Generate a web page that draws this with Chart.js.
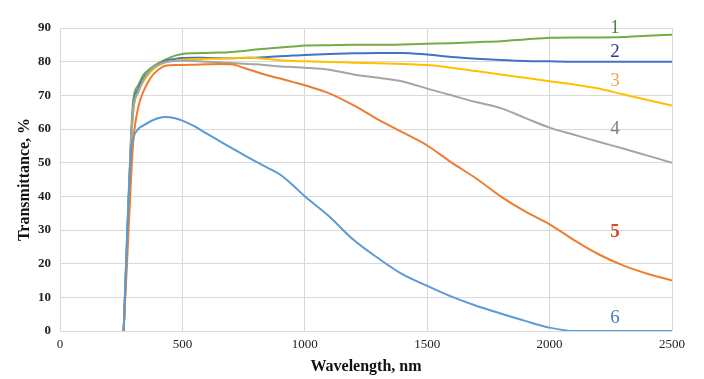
<!DOCTYPE html>
<html>
<head>
<meta charset="utf-8">
<script src="https://cdn.jsdelivr.net/npm/chart.js@4"></script>
<style>
  html, body { margin: 0; padding: 0; background: #fff; }
  #wrap { width: 704px; height: 379px; }
</style>
</head>
<body>
<div id="wrap"><canvas id="chart"></canvas></div>
<script>
// wavelength grid (nm) shared by all curves
const wavelengths = [260, 275, 290, 300, 320, 340, 370, 400, 430, 470, 500, 550, 600, 650, 700, 750, 800, 850, 900, 950,
    1000, 1100, 1200, 1300, 1400, 1500, 1600, 1700, 1800, 1900, 2000, 2100, 2200, 2300, 2400, 2500];

const curve1 = [0, 30, 58, 69, 73, 76, 78, 79.5, 80.6, 81.8, 82.3, 82.5, 82.6, 82.7, 82.9, 83.2, 83.6, 83.9, 84.2, 84.5,
    84.8, 84.9, 85, 85, 85.1, 85.3, 85.5, 85.8, 86.1, 86.6, 87.1, 87.2, 87.2, 87.3, 87.7, 88];
const curve2 = [0, 28, 56, 67, 72, 75, 77.5, 79, 80.2, 80.8, 81.1, 81.2, 81.1, 81, 81, 81.1, 81.2, 81.4, 81.6, 81.8,
    82, 82.3, 82.5, 82.6, 82.6, 82.1, 81.4, 80.9, 80.5, 80.2, 80.1, 80, 80, 80, 80, 80];
const curve3 = [0, 27, 55, 66, 71, 74, 77, 78.8, 79.8, 80.3, 80.6, 80.7, 80.8, 80.9, 81.1, 81.2, 81.1, 80.8, 80.4, 80.2,
    80.1, 79.9, 79.7, 79.5, 79.3, 79, 78.2, 77.2, 76.2, 75.2, 74.2, 73.2, 72, 70.3, 68.6, 67];
const curve4 = [0, 27, 55, 66, 71, 74.5, 77.5, 79, 79.8, 80.2, 80.3, 80.2, 80, 79.8, 79.6, 79.4, 79.2, 78.9, 78.6, 78.4,
    78.2, 77.6, 76.2, 75.2, 74.1, 72, 70, 68, 66.2, 63.3, 60.4, 58.3, 56.2, 54.2, 52.1, 50];
const curve5 = [0, 22, 45, 57, 66.5, 71, 75.2, 77.5, 78.8, 79, 79, 79.1, 79.2, 79.3, 79.2, 78.2, 77, 75.9, 75, 74,
    73, 70.6, 67, 62.8, 59, 55.1, 50, 45.3, 40, 35.5, 31.7, 27, 22.8, 19.5, 17, 15];
const curve6 = [0, 30, 53.5, 57.5, 60, 61, 62.3, 63.2, 63.6, 63.2, 62.5, 60.8, 58.6, 56.5, 54.4, 52.3, 50.3, 48.4, 46.4, 43.4,
    40, 34, 27, 21.6, 16.8, 13.4, 10.2, 7.5, 5.2, 3, 1, 0, 0, 0, 0, 0];

const curveColors = ['#70AD47', '#4472C4', '#FFC000', '#A5A5A5', '#ED7D31', '#5B9BD5'];

// curve number labels, placed in data units (nm, %)
const labelTexts = ['1', '2', '3', '4', '5', '6'];
const labelNm = [2267, 2267, 2267, 2267, 2267, 2267];
const labelPct = [90.1, 82.9, 74.2, 59.9, 29.3, 4.0];
const labelColors = ['#3F8A3A', '#2E3C86', '#F2A65A', '#808080', '#E0452A', '#4A7EBB'];

const xTicks = [0, 500, 1000, 1500, 2000, 2500];

function toPoints(ys) {
    return wavelengths.map((w, i) => ({ x: w, y: ys[i] }));
}

const curveLabels = {
    id: 'curveLabels',
    afterDatasetsDraw(chart) {
        const ctx = chart.ctx;
        const xs = chart.scales.x, ys = chart.scales.y;
        ctx.save();
        ctx.textAlign = 'center';
        ctx.textBaseline = 'middle';
        labelTexts.forEach((t, i) => {
            ctx.font = (t === '5' ? 'bold ' : '') + '19px "Liberation Serif"';
            ctx.fillStyle = labelColors[i];
            ctx.fillText(t, xs.getPixelForValue(labelNm[i]), ys.getPixelForValue(labelPct[i]));
        });
        ctx.restore();
    }
};

const series = [curve1, curve2, curve3, curve4, curve5, curve6];

new Chart(document.getElementById('chart').getContext('2d'), {
    type: 'line',
    data: {
        datasets: series.map((s, i) => ({
            label: labelTexts[i],
            data: toPoints(s),
            borderColor: curveColors[i],
            backgroundColor: curveColors[i],
            borderWidth: 2,
            pointRadius: 0,
            cubicInterpolationMode: 'monotone',
            fill: false
        })).reverse()
    },
    options: {
        responsive: true,
        maintainAspectRatio: false,
        animation: false,
        layout: { padding: { left: 0, right: 32, top: 28, bottom: 0 } },
        plugins: {
            legend: { display: false },
            tooltip: { enabled: false }
        },
        scales: {
            x: {
                type: 'linear',
                min: 0,
                max: 2500,
                afterBuildTicks: (scale) => { scale.ticks = xTicks.map(v => ({ value: v })); },
                afterFit: (scale) => { scale.height = 48; },
                grid: { color: '#d9d9d9', drawTicks: false },
                border: { display: false },
                ticks: {
                    padding: 6,
                    color: '#222',
                    font: { family: '"Liberation Serif"', size: 13 },
                    callback: (v) => String(v)
                },
                title: {
                    display: true,
                    text: 'Wavelength, nm',
                    color: '#111',
                    font: { family: '"Liberation Serif"', size: 16, weight: 'bold' },
                    padding: { top: 0, bottom: 3 }
                }
            },
            y: {
                min: 0,
                max: 90,
                ticks: {
                    stepSize: 10,
                    padding: 9,
                    color: '#222',
                    font: { family: '"Liberation Serif"', size: 13, weight: 'bold' }
                },
                afterFit: (scale) => { scale.width = 60; },
                grid: { color: '#d9d9d9', drawTicks: false },
                border: { display: false },
                title: {
                    display: true,
                    text: 'Transmittance, %',
                    color: '#111',
                    font: { family: '"Liberation Serif"', size: 16, weight: 'bold' },
                    padding: { top: 15, bottom: 0 }
                }
            }
        }
    },
    plugins: [curveLabels]
});
</script>
</body>
</html>
